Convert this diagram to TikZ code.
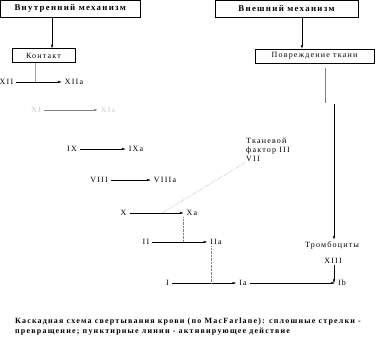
\documentclass[tikz,border=0pt]{standalone}
\usepackage{fontspec}
\setmainfont{Liberation Serif}[LetterSpace=15]
\usetikzlibrary{arrows.meta}

\begin{document}
\begin{tikzpicture}[>={Latex[length=3.5pt,width=2.4pt]},x=1pt,y=-1pt,
  every node/.style={font=\fontsize{8}{9}\selectfont,inner xsep=3pt,inner ysep=1.5pt},
  box/.style={draw,thin,minimum height=14pt},
  head/.style={box,minimum height=16.5pt,font=\bfseries\fontsize{8.8}{10}\selectfont},
  conv/.style={->,thin},
  act/.style={densely dotted,gray,thin}]
\useasboundingbox (0,0) rectangle (384,342);

% Mechanisms
\node[head,minimum width=139.5pt] (vnutr) at (70.25,8.75) {Внутренний механизм};
\node[head,minimum width=143pt] (vnesh) at (286.5,8.75) {Внешний механизм};
\node[box,minimum width=63pt] (kontakt) at (43.5,55.5) {Контакт};
\node[box,minimum width=119pt] (povr) at (314.5,55.8) {Повреждение ткани};
\coordinate (a1) at (52,0);
\coordinate (a2) at (302,0);
\draw[->] (vnutr.south -| a1) -- (kontakt.north -| a1);
\draw[->] (vnesh.south -| a2) -- (povr.north -| a2);

% Factors (intrinsic path)
\node (f12) at (6.5,82) {XII};
\node (f12a) at (74,82) {XIIa};
\node[gray!40] (f11) at (36,110) {XI};
\node[gray!40] (f11a) at (108,110) {XIa};
\node (f9) at (72,149) {IX};
\node (f9a) at (136,149) {IXa};
\node (f8) at (99,180) {VIII};
\node (f8a) at (165,180) {VIIIa};
\node (f10) at (123.5,213) {X};
\node (f10a) at (192,213) {Xa};
\node (f2) at (146,242) {II};
\node (f2a) at (216,242) {IIa};
\node (f1) at (167.5,283) {I};
\node (f1a) at (243,283) {Ia};
\node (f1b) at (342,283) {Ib};

\draw[conv] (f12) -- (f12a);
\draw[conv,gray] (f11) -- (f11a);
\draw[conv] (f9) -- (f9a);
\draw[conv] (f8) -- (f8a);
\draw[conv] (f10) -- (f10a);
\draw[conv] (f2) -- (f2a);
\draw[conv] (f1) -- (f1a);
\draw[conv] (f1a) -- (f1b);

% Extrinsic path
\node[align=left,anchor=north west,inner sep=0pt] (tf) at (246,138) {Тканевой\\фактор III\\VII};
\node (tromb) at (332,245) {Тромбоциты};
\node (f13) at (333,261) {XIII};
\coordinate (p1) at (325,68);
\coordinate (p2) at (325,103);
\coordinate (p3) at (334,104);
\draw[gray] (p1) -- (p2);
\draw[->] (p3) -- (p3 |- tromb.north);
\coordinate (on13) at (334,283);
\draw[->] (on13 |- f13.south) -- (on13);

% Activating action
\coordinate (on12) at (35,82);
\coordinate (on10) at (162,213);
\coordinate (on2) at (183,242);
\coordinate (on1) at (211,283);
\draw[gray!70] (kontakt.south -| on12) -- (on12);
\draw[act] (on10) -- (tf.south west);
\draw[act] (f10a.south -| on2) -- (on2);
\draw[act] (f2a.south -| on1) -- (on1);

% Caption
\node[anchor=west,align=left,inner sep=0pt,font=\bfseries\fontsize{8}{10}\selectfont] (cap) at (15,327)
  {Каскадная схема свертывания крови (по MacFarlane): сплошные стрелки -\\
   превращение; пунктирные линии - активирующее действие};
\end{tikzpicture}
\end{document}
